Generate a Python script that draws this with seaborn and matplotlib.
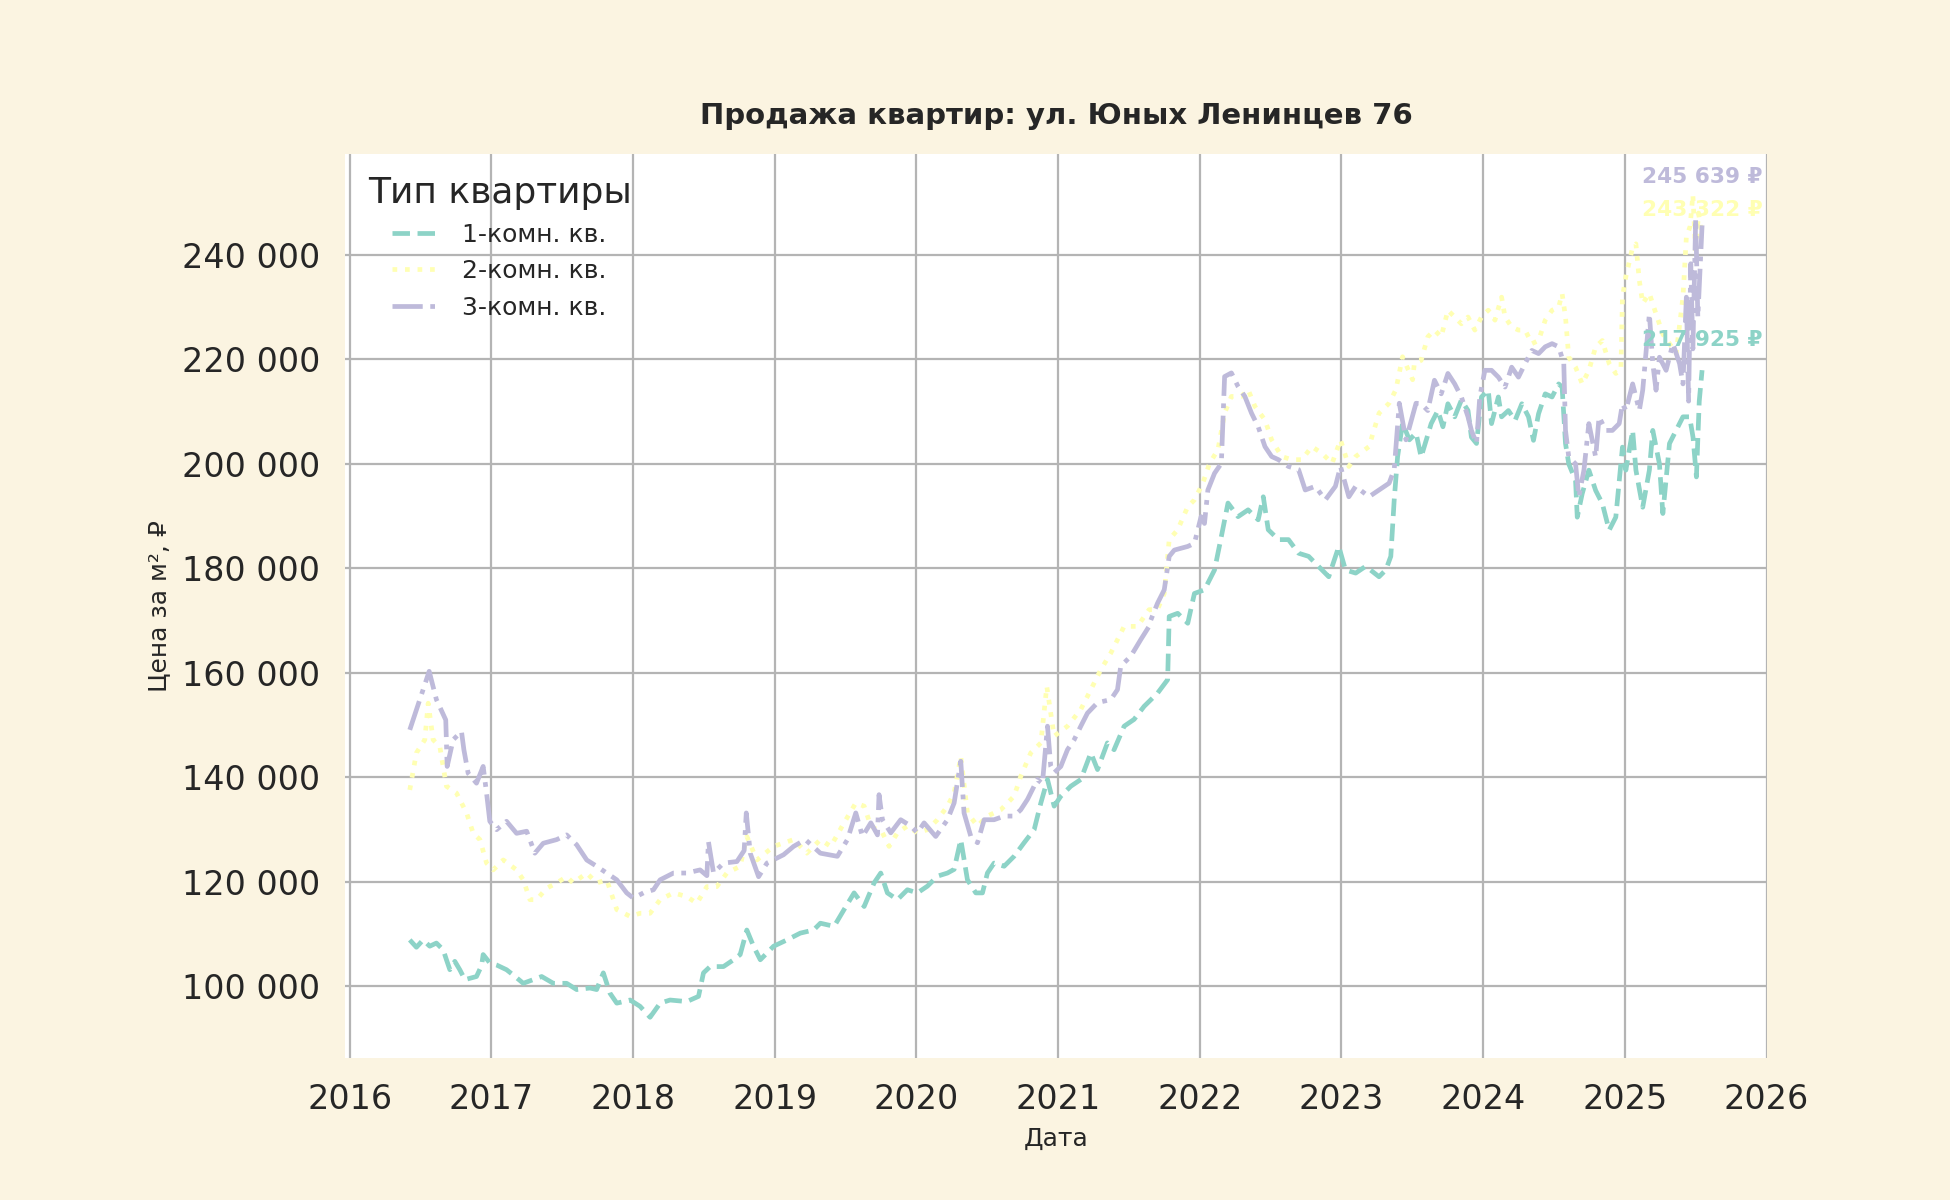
import pandas as pd
import seaborn as sns
import matplotlib.pyplot as plt
from matplotlib.ticker import FuncFormatter

# --- данные (год в долях, цена за м²) ---
years_1k = [2016.424, 2016.471, 2016.518, 2016.565, 2016.612, 2016.660, 2016.683, 2016.707, 2016.742, 2016.777,
            2016.813, 2016.895, 2016.931, 2016.942, 2016.989, 2017.037, 2017.107, 2017.154, 2017.225, 2017.295,
            2017.355, 2017.437, 2017.531, 2017.602, 2017.696, 2017.743, 2017.790, 2017.837, 2017.885, 2017.979,
            2018.049, 2018.120, 2018.191, 2018.261, 2018.379, 2018.462, 2018.497, 2018.544, 2018.638, 2018.709,
            2018.756, 2018.803, 2018.850, 2018.898, 2018.992, 2019.086, 2019.180, 2019.274, 2019.322, 2019.419,
            2019.489, 2019.560, 2019.631, 2019.701, 2019.748, 2019.795, 2019.866, 2019.936, 2020.007, 2020.078,
            2020.148, 2020.219, 2020.266, 2020.313, 2020.360, 2020.419, 2020.466, 2020.501, 2020.548, 2020.619,
            2020.689, 2020.760, 2020.831, 2020.878, 2020.925, 2020.972, 2021.019, 2021.089, 2021.160, 2021.231,
            2021.278, 2021.348, 2021.395, 2021.466, 2021.536, 2021.607, 2021.701, 2021.773, 2021.784, 2021.844,
            2021.915, 2021.962, 2022.033, 2022.104, 2022.152, 2022.199, 2022.270, 2022.341, 2022.412, 2022.448,
            2022.483, 2022.555, 2022.626, 2022.697, 2022.768, 2022.863, 2022.910, 2022.981, 2023.028, 2023.100,
            2023.171, 2023.265, 2023.313, 2023.348, 2023.372, 2023.396, 2023.431, 2023.479, 2023.526, 2023.562,
            2023.633, 2023.680, 2023.716, 2023.751, 2023.799, 2023.846, 2023.893, 2023.917, 2023.953, 2023.988,
            2024.036, 2024.059, 2024.107, 2024.130, 2024.178, 2024.225, 2024.273, 2024.320, 2024.355, 2024.391,
            2024.438, 2024.486, 2024.533, 2024.557, 2024.581, 2024.604, 2024.652, 2024.664, 2024.699, 2024.746,
            2024.794, 2024.841, 2024.889, 2024.936, 2024.983, 2025.007, 2025.055, 2025.078, 2025.126, 2025.173,
            2025.197, 2025.244, 2025.268, 2025.315, 2025.362, 2025.410, 2025.457, 2025.481, 2025.505, 2025.525,
            2025.545]
price_1k = [108900, 107500, 108900, 107700, 108300, 107000, 105100, 103200, 104800, 103200,
            101300, 101900, 104000, 106100, 104500, 104100, 103200, 102200, 100600, 101300,
            101900, 100600, 100600, 99400, 99700, 99400, 102600, 98700, 96800, 97400,
            96200, 94100, 96800, 97400, 97100, 98100, 102600, 103800, 103800, 105100,
            106100, 110800, 107700, 105100, 107700, 108900, 110200, 110800, 112100, 111500,
            114700, 117900, 115300, 119800, 121700, 117900, 116600, 118500, 117900, 119200,
            121100, 121700, 122400, 128100, 120400, 117900, 117900, 121700, 123600, 123000,
            124900, 127500, 130000, 135100, 139600, 134500, 136400, 138300, 139600, 144700,
            141500, 146600, 145300, 149800, 151100, 153600, 156100, 158700, 170800, 171400,
            169500, 175200, 175900, 179700, 186100, 192500, 189900, 191200, 189300, 193700,
            187400, 185500, 185500, 182900, 182300, 179700, 178400, 184200, 179700, 179100,
            180400, 178400, 179700, 182300, 193100, 201400, 207800, 204600, 205900, 201300,
            207700, 210200, 207100, 211500, 209000, 212200, 210200, 205100, 203900, 212800,
            214100, 207700, 212800, 209000, 210200, 208300, 211500, 209000, 204500, 209600,
            213400, 212800, 215300, 214700, 203900, 200000, 196800, 189800, 194300, 198800,
            194900, 192400, 187300, 189800, 203200, 198800, 206400, 198800, 191700, 198800,
            206400, 200000, 190500, 203900, 206400, 209000, 209000, 205100, 197500, 212000,
            217925]

years_2k = [2016.424, 2016.471, 2016.530, 2016.554, 2016.589, 2016.636, 2016.683, 2016.754, 2016.825, 2016.872,
            2016.919, 2016.966, 2017.013, 2017.084, 2017.178, 2017.225, 2017.272, 2017.319, 2017.390, 2017.461,
            2017.531, 2017.578, 2017.673, 2017.743, 2017.814, 2017.885, 2017.979, 2018.049, 2018.120, 2018.191,
            2018.285, 2018.379, 2018.450, 2018.521, 2018.591, 2018.662, 2018.756, 2018.803, 2018.874, 2018.992,
            2019.133, 2019.227, 2019.322, 2019.395, 2019.489, 2019.572, 2019.631, 2019.678, 2019.760, 2019.807,
            2019.866, 2019.936, 2020.007, 2020.078, 2020.148, 2020.219, 2020.266, 2020.313, 2020.360, 2020.431,
            2020.501, 2020.595, 2020.689, 2020.736, 2020.807, 2020.878, 2020.920, 2020.972, 2021.066, 2021.160,
            2021.231, 2021.301, 2021.372, 2021.466, 2021.560, 2021.642, 2021.701, 2021.749, 2021.784, 2021.844,
            2021.915, 2021.962, 2022.021, 2022.069, 2022.128, 2022.175, 2022.223, 2022.294, 2022.341, 2022.389,
            2022.460, 2022.507, 2022.578, 2022.649, 2022.720, 2022.791, 2022.863, 2022.934, 2022.993, 2023.052,
            2023.100, 2023.194, 2023.265, 2023.336, 2023.384, 2023.431, 2023.502, 2023.514, 2023.562, 2023.609,
            2023.656, 2023.704, 2023.751, 2023.799, 2023.846, 2023.893, 2023.941, 2023.988, 2024.036, 2024.083,
            2024.130, 2024.154, 2024.201, 2024.249, 2024.296, 2024.344, 2024.391, 2024.438, 2024.486, 2024.533,
            2024.557, 2024.581, 2024.604, 2024.652, 2024.699, 2024.746, 2024.794, 2024.841, 2024.889, 2024.936,
            2024.972, 2024.983, 2025.007, 2025.055, 2025.078, 2025.102, 2025.126, 2025.173, 2025.220, 2025.268,
            2025.315, 2025.362, 2025.410, 2025.434, 2025.460, 2025.480, 2025.500, 2025.520, 2025.545]
price_2k = [137600, 144700, 147200, 154200, 147200, 145900, 138300, 137000, 133200, 129300,
            128100, 123600, 122300, 124200, 122300, 120400, 116600, 116600, 118800, 119800,
            121000, 119800, 121700, 119800, 120400, 114700, 113400, 114000, 114000, 116600,
            117900, 117200, 115900, 119100, 119100, 121700, 123000, 128700, 124200, 126800,
            128100, 125500, 128100, 126800, 131300, 135100, 134500, 130700, 129400, 126800,
            129400, 130700, 129400, 130000, 131900, 134500, 137000, 144000, 133200, 130700,
            132600, 133800, 136400, 140200, 144700, 146600, 157400, 147900, 149800, 153000,
            156800, 160600, 163800, 168900, 168900, 172100, 172100, 175200, 185500, 187400,
            191800, 193100, 196300, 200100, 202700, 209700, 212900, 212900, 214200, 211000,
            208400, 204600, 201400, 200800, 200800, 203300, 202000, 200100, 204600, 199500,
            201400, 203300, 209700, 211600, 214200, 220500, 216100, 219200, 219800, 224300,
            225600, 224300, 229400, 228100, 226800, 228100, 225600, 228100, 229400, 227500,
            231900, 228100, 226200, 225600, 225600, 223000, 223600, 227500, 229400, 230000,
            232600, 228100, 220400, 218500, 215300, 217900, 222400, 223600, 219200, 217300,
            217900, 231900, 235800, 241500, 242100, 235100, 230700, 232600, 228700, 224800,
            223000, 221100, 231900, 243400, 245400, 251500, 240000, 248000, 243322]

years_3k = [2016.424, 2016.561, 2016.612, 2016.678, 2016.688, 2016.730, 2016.789, 2016.806, 2016.836, 2016.895,
            2016.942, 2016.966, 2016.989, 2017.037, 2017.107, 2017.178, 2017.249, 2017.307, 2017.366, 2017.461,
            2017.531, 2017.602, 2017.673, 2017.743, 2017.814, 2017.885, 2017.955, 2018.002, 2018.073, 2018.144,
            2018.191, 2018.285, 2018.379, 2018.473, 2018.521, 2018.532, 2018.568, 2018.638, 2018.733, 2018.784,
            2018.799, 2018.827, 2018.886, 2018.945, 2019.062, 2019.133, 2019.216, 2019.322, 2019.442, 2019.513,
            2019.572, 2019.619, 2019.678, 2019.725, 2019.736, 2019.760, 2019.819, 2019.889, 2019.960, 2020.007,
            2020.054, 2020.136, 2020.219, 2020.266, 2020.313, 2020.336, 2020.384, 2020.431, 2020.478, 2020.548,
            2020.619, 2020.689, 2020.736, 2020.784, 2020.854, 2020.889, 2020.925, 2020.948, 2020.972, 2021.019,
            2021.066, 2021.113, 2021.160, 2021.207, 2021.278, 2021.372, 2021.419, 2021.442, 2021.513, 2021.584,
            2021.642, 2021.654, 2021.701, 2021.749, 2021.784, 2021.820, 2021.915, 2021.962, 2022.009, 2022.033,
            2022.057, 2022.104, 2022.152, 2022.175, 2022.223, 2022.270, 2022.318, 2022.365, 2022.412, 2022.460,
            2022.507, 2022.555, 2022.626, 2022.697, 2022.744, 2022.815, 2022.886, 2022.957, 2022.993, 2023.052,
            2023.100, 2023.194, 2023.265, 2023.336, 2023.372, 2023.408, 2023.455, 2023.526, 2023.562, 2023.609,
            2023.656, 2023.704, 2023.751, 2023.799, 2023.846, 2023.893, 2023.917, 2023.953, 2023.976, 2024.012,
            2024.059, 2024.107, 2024.154, 2024.201, 2024.249, 2024.296, 2024.344, 2024.391, 2024.438, 2024.486,
            2024.533, 2024.569, 2024.581, 2024.604, 2024.652, 2024.675, 2024.711, 2024.746, 2024.794, 2024.818,
            2024.865, 2024.912, 2024.960, 2024.983, 2025.007, 2025.055, 2025.102, 2025.126, 2025.173, 2025.197,
            2025.220, 2025.244, 2025.291, 2025.339, 2025.386, 2025.410, 2025.434, 2025.450, 2025.465, 2025.480,
            2025.500, 2025.515, 2025.545]
price_3k = [149100, 160300, 154900, 151000, 142100, 147200, 148800, 145300, 140800, 138900,
            142100, 137000, 131600, 130000, 131600, 129300, 129700, 125500, 127400, 128100,
            129000, 127100, 124200, 123000, 121700, 120400, 117900, 116900, 117900, 118500,
            120400, 121700, 121700, 122300, 121200, 127700, 121700, 123600, 123900, 126000,
            133200, 125500, 121000, 123600, 125200, 126800, 128100, 125500, 124900, 128100,
            133200, 128700, 131300, 129000, 136700, 131900, 129400, 131900, 130700, 129400,
            131300, 128700, 131900, 135100, 143100, 133200, 128700, 127500, 131900, 131900,
            132600, 132600, 133800, 135800, 139600, 138800, 149800, 142100, 140900, 142100,
            145300, 147200, 149800, 152300, 154300, 154900, 156800, 161300, 163200, 166400,
            168900, 170100, 173300, 175900, 182300, 183500, 184200, 184800, 189900, 188600,
            195000, 198200, 200100, 216700, 217400, 214800, 212900, 209700, 207100, 203300,
            201400, 200800, 199500, 198900, 195000, 195700, 193100, 195700, 199500, 193700,
            195700, 193700, 195000, 196300, 198900, 211600, 204600, 211600, 211500, 210200,
            216000, 213400, 217300, 215300, 212800, 209000, 206400, 203900, 212800, 217900,
            217900, 216600, 214700, 218500, 216600, 219200, 221700, 221100, 222400, 223000,
            222400, 219200, 206400, 201300, 200000, 193700, 198800, 207700, 201300, 209000,
            206400, 206400, 207700, 211500, 210200, 215300, 210200, 214100, 228700, 219200,
            214100, 220400, 217900, 223000, 219200, 215300, 231900, 212000, 238300, 222000,
            247000, 228000, 245639]

room_types = ["1-комн. кв.", "2-комн. кв.", "3-комн. кв."]
title = "Продажа квартир: ул. Юных Ленинцев 76"

BG = "#fbf4e1"
colors = sns.color_palette("Set3", 3)


def rub(v, pos=None):
    return f"{int(round(v)):,}".replace(",", " ")


series = [(years_1k, price_1k), (years_2k, price_2k), (years_3k, price_3k)]
df = pd.concat(
    [pd.DataFrame({"Дата": xs, "Цена": ys, "Тип квартиры": name})
     for name, (xs, ys) in zip(room_types, series)],
    ignore_index=True)

sns.set_theme(style="whitegrid")
plt.rcParams["font.family"] = ["DejaVu Sans"]

fig = plt.figure(figsize=(9.75, 6), dpi=200, facecolor=BG)
ax = fig.add_axes([0.177, 0.118, 0.729, 0.754])
ax.set_facecolor("white")

sns.lineplot(data=df, x="Дата", y="Цена", hue="Тип квартиры", style="Тип квартиры",
             hue_order=room_types, style_order=room_types, palette=colors,
             dashes=[(3.7, 1.6), (1, 1.65), (6.4, 1.6, 1, 1.6)],
             linewidth=1.7, ax=ax)

# подписи последних значений
offsets = [10.8, 9.8, 17.3]
for (xs, ys), c, off in zip(series, colors, offsets):
    ax.annotate(f"{rub(ys[-1])} ₽", xy=(xs[-1], ys[-1]), xytext=(0, off),
                textcoords="offset points", ha="center", va="center",
                color=c, fontsize=7.8, fontweight="bold")

ax.set_xticks(range(2016, 2027))
ax.xaxis.set_major_formatter(FuncFormatter(lambda v, p: f"{int(round(v))}"))
ax.yaxis.set_major_formatter(FuncFormatter(rub))
ax.tick_params(axis="both", labelsize=12, length=0)
ax.tick_params(axis="x", pad=8.8)
ax.tick_params(axis="y", pad=9)
ax.grid(True, color="#b4b4b4", linewidth=0.8)
for s in ax.spines.values():
    s.set_visible(False)

ax.set_title(title, fontsize=10.5, fontweight="bold", pad=10.5)
ax.set_xlabel("Дата", fontsize=9)
ax.set_ylabel("Цена за м², ₽", fontsize=9)

handles, labels = ax.get_legend_handles_labels()
ax.legend(handles, labels, title="Тип квартиры", loc="upper left", frameon=False,
          fontsize=9, title_fontsize=13)

fig.savefig("out.png", dpi=200, facecolor=BG)
